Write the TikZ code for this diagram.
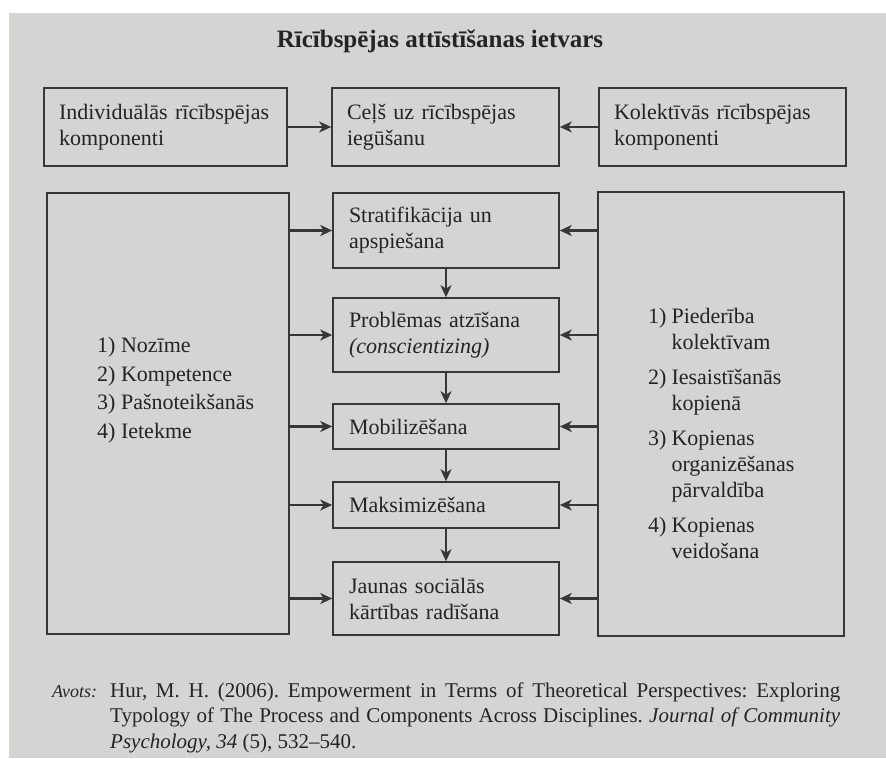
\documentclass[tikz,border=0pt]{standalone}
\usepackage{fontspec}
\setmainfont{Liberation Serif}
\usetikzlibrary{arrows.meta}
\definecolor{bg}{RGB}{212,212,210}
\definecolor{ln}{RGB}{55,55,55}
\definecolor{tx}{RGB}{36,36,36}
\frenchspacing
\begin{document}
\begin{tikzpicture}[x=1pt,y=-1pt,
  box/.style={draw=ln, line width=1.6pt, text=tx, font=\fontsize{22}{26}\selectfont,
              align=left, inner ysep=0pt, inner xsep=15pt},
  cbox/.style={box, minimum width=226pt, text width=194pt, inner xsep=16pt},
  bigbox/.style={draw=ln, line width=1.6pt, inner sep=0pt},
  arr/.style={draw=ln, line width=2.2pt, -{Stealth[length=12pt,width=11pt,inset=3.5pt]}},
  txt/.style={text=tx, inner sep=0pt}
]
\fill[white] (0,0) rectangle (886,758);
\fill[bg] (9,13) rectangle (886,758);
\useasboundingbox (0,0) rectangle (886,758);

% title
\node[txt, font=\fontsize{25}{30}\selectfont\bfseries, anchor=base] (T) at (440,47) {Rīcībspējas attīstīšanas ietvars};

% top row
\node[box, minimum width=243pt, text width=213pt, minimum height=78pt] (A) at (165.5,127) {Individuālās~rīcībspējas\\komponenti};
\node[box, minimum width=227pt, text width=197pt, minimum height=78pt] (B) at (445.5,127) {Ceļš uz~rīcībspējas\\iegūšanu};
\node[box, minimum width=247pt, text width=217pt, minimum height=78pt] (C) at (722.5,127) {Kolektīvās~rīcībspējas\\komponenti};

% big side boxes
\node[bigbox, minimum width=242pt, minimum height=441pt] (L) at (168,413.5) {};
\node[bigbox, minimum width=246pt, minimum height=444pt] (R) at (721,414) {};

\node[txt, font=\fontsize{22}{28.5}\selectfont, align=left, anchor=west] (LL) at (97,390)
  {1) Nozīme\\2) Kompetence\\3) Pašnoteikšanās\\4) Ietekme};

\node[txt, font=\fontsize{22}{26}\selectfont, anchor=west] (RL) at (648,436)
  {\begin{tabular}{@{}l@{\hspace{5pt}}l@{}}
   1) & Piederība\\ & kolektīvam\\[9pt]
   2) & Iesaistīšanās\\ & kopienā\\[9pt]
   3) & Kopienas\\ & organizēšanas\\ & pārvaldība\\[9pt]
   4) & Kopienas\\ & veidošana
   \end{tabular}};

% centre column
\node[cbox, minimum height=75pt] (S) at (446,230.5) {Stratifikācija un\\apspiešana};
\node[cbox, minimum height=74pt] (P) at (446,335) {Problēmas atzīšana\\\textit{(conscientizing)}};
\node[cbox, minimum height=45pt] (M) at (446,426.5) {Mobilizēšana};
\node[cbox, minimum height=46pt] (X) at (446,505) {Maksimizēšana};
\node[cbox, minimum height=73pt] (J) at (446,598.5) {Jaunas sociālās\\kārtības radīšana};

% connectors
\draw[arr] (A) -- (B);
\draw[arr] (C) -- (B);
\foreach \n in {S,P,M,X,J}{
  \draw[arr] (L.east |- \n) -- (\n.west);
  \draw[arr] (R.west |- \n) -- (\n.east);
}
\draw[arr] (S) -- (P);
\draw[arr] (P) -- (M);
\draw[arr] (M) -- (X);
\draw[arr] (X) -- (J);

% source
\node[txt, font=\fontsize{18}{22}\selectfont\itshape, anchor=base west] (av) at (52,697) {Avots:};
\node[txt, font=\fontsize{21}{25}\selectfont, anchor=base west] (c1) at (110,697)
  {\makebox[730pt][s]{Hur, M. H. (2006). Empowerment in Terms of Theoretical Perspectives: Exploring}};
\node[txt, font=\fontsize{21}{25}\selectfont, anchor=base west] (c2) at (110,722)
  {\makebox[730pt][s]{Typology of The Process and Components Across Disciplines. \textit{Journal of Community}}};
\node[txt, font=\fontsize{21}{25}\selectfont, anchor=base west] (c3) at (110,748)
  {\textit{Psychology, 34} (5), 532–540.};
\end{tikzpicture}
\end{document}
